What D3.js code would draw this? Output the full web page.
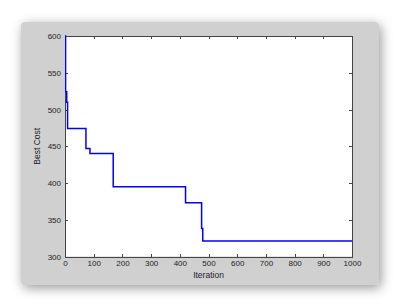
<!DOCTYPE html>
<meta charset="utf-8">
<style>
body { margin: 0; background: #fff; }
.axis text { font: 8px Arial, "Liberation Sans", sans-serif; fill: #222; }
.axis path { stroke: #444; shape-rendering: crispEdges; }
.axis line { stroke: #444; shape-rendering: crispEdges; }
.label { font: 8.5px Arial, "Liberation Sans", sans-serif; fill: #222; }
</style>
<script src="https://cdn.jsdelivr.net/npm/d3@7"></script>
<body>
<script>

// best cost per iteration (step changes)
var iterations = [0, 2, 6, 9, 73, 87, 168, 420, 476, 480, 1000];
var bestCost   = [600, 524, 510, 474, 447, 440, 395, 373, 338, 321, 321];

var xTicks = [0, 100, 200, 300, 400, 500, 600, 700, 800, 900, 1000];
var yTicks = [300, 350, 400, 450, 500, 550, 600];

var width = 400, height = 305;
var plot = {left: 65, top: 36, right: 352, bottom: 256.5};

var svg = d3.select("body").append("svg")
    .attr("width", width)
    .attr("height", height);

var defs = svg.append("defs");
var shadow = defs.append("filter")
    .attr("id", "shadow")
    .attr("x", "-20%").attr("y", "-20%")
    .attr("width", "140%").attr("height", "140%");
shadow.append("feDropShadow")
    .attr("dx", 2).attr("dy", 3)
    .attr("stdDeviation", 6)
    .attr("flood-color", "#000")
    .attr("flood-opacity", 0.4);

defs.append("clipPath").attr("id", "clip")
  .append("rect")
    .attr("x", plot.left).attr("y", plot.top - 1)
    .attr("width", plot.right - plot.left)
    .attr("height", plot.bottom - plot.top + 1);

// grey figure window
svg.append("rect")
    .attr("x", 21).attr("y", 22)
    .attr("width", 358).attr("height", 263)
    .attr("rx", 4)
    .attr("fill", "#d0d0d0")
    .attr("filter", "url(#shadow)");

svg.append("rect")
    .attr("x", plot.left).attr("y", plot.top)
    .attr("width", plot.right - plot.left)
    .attr("height", plot.bottom - plot.top)
    .attr("fill", "#fff");

var x = d3.scaleLinear().domain([0, 1000]).range([plot.left, plot.right]);
var y = d3.scaleLinear().domain([300, 600]).range([plot.bottom, plot.top]);

svg.append("g")
    .attr("class", "x axis")
    .attr("transform", "translate(0," + plot.bottom + ")")
    .call(d3.axisBottom(x).tickValues(xTicks).tickFormat(d3.format("d"))
      .tickSizeInner(-3).tickSizeOuter(0).tickPadding(4));

svg.append("g")
    .attr("class", "y axis")
    .attr("transform", "translate(" + plot.left + ",0)")
    .call(d3.axisLeft(y).tickValues(yTicks).tickFormat(d3.format("d"))
      .tickSizeInner(-3).tickSizeOuter(0).tickPadding(4));

svg.append("g")
    .attr("class", "axis")
    .attr("transform", "translate(0," + plot.top + ")")
    .call(d3.axisTop(x).tickValues(xTicks).tickSizeInner(-3).tickSizeOuter(0).tickFormat(""));

svg.append("g")
    .attr("class", "axis")
    .attr("transform", "translate(" + plot.right + ",0)")
    .call(d3.axisRight(y).tickValues(yTicks).tickSizeInner(-3).tickSizeOuter(0).tickFormat(""));

var data = iterations.map(function(d, i) { return {it: d, cost: bestCost[i]}; });

var line = d3.line()
    .x(function(d) { return x(d.it); })
    .y(function(d) { return y(d.cost); })
    .curve(d3.curveStepAfter);

svg.append("path")
    .datum(data)
    .attr("clip-path", "url(#clip)")
    .attr("fill", "none")
    .attr("stroke", "#0000ff")
    .attr("stroke-width", 1.5)
    .attr("d", line);

svg.append("text")
    .attr("class", "label")
    .attr("x", (plot.left + plot.right) / 2)
    .attr("y", 278)
    .attr("text-anchor", "middle")
    .text("Iteration");

svg.append("text")
    .attr("class", "label")
    .attr("transform", "translate(40," + (plot.top + plot.bottom) / 2 + ") rotate(-90)")
    .attr("text-anchor", "middle")
    .text("Best Cost");

</script>
</body>
